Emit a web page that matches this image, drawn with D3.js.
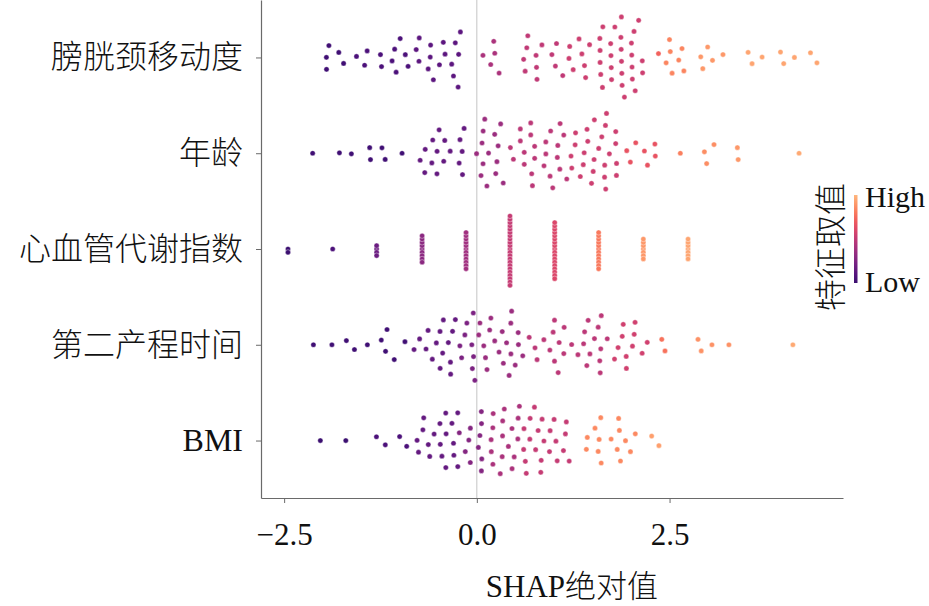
<!DOCTYPE html>
<html>
<head>
<meta charset="utf-8">
<script src="https://cdn.jsdelivr.net/npm/d3@7"></script>
<style>
  body { margin: 0; background: #fff; }
  svg { display: block; }
</style>
</head>
<body>
<div id="chart"></div>
<script>
// SHAP beeswarm, groupées par niveau de couleur (valeur de la variable)

const features = ["膀胱颈移动度", "年龄", "心血管代谢指数", "第二产程时间", "BMI"]
const xTicks = [-2.5, 0, 2.5]

// 膀胱颈移动度 : { v = valeur de la variable (0 bas → 1 haut), shap = valeurs SHAP }
const bladderNeck = [
  { v: 0.02, shap: [-1.92, -1.95, -1.95, -1.73, -1.79] },
  { v: 0.06, shap: [-1.55, -1.46, -1.43, -1.25, -1.23, -1.10, -1.05, -1.06, -1.00, -0.93, -0.89] },
  { v: 0.12, shap: [-0.78, -0.75, -0.73, -0.64, -0.60, -0.61, -0.57, -0.49, -0.41, -0.41, -0.31, -0.29, -0.26, -0.30, -0.25, -0.22] },
  { v: 0.42, shap: [0.09, 0.22, 0.28, 0.19, 0.22] },
  { v: 0.50, shap: [0.63, 0.77, 0.84, 0.66, 0.61, 0.76, 0.78, 0.66, 1.02, 0.98, 1.03, 1.12] },
  { v: 0.55, shap: [1.24, 1.21, 1.20, 1.38, 1.41, 1.46, 1.33, 1.39, 1.61, 1.60, 1.64, 1.65, 1.62, 1.59, 1.77, 1.91, 1.91, 1.83,
                    1.75, 1.79, 1.82, 1.80, 1.84, 1.86, 1.93, 1.77, 2.03, 1.99, 1.99, 2.08, 2.13, 2.02, 2.05, 2.09, 2.04] },
  { v: 0.72, shap: [2.37] },
  { v: 0.84, shap: [2.50, 2.62, 2.68, 2.46, 2.66, 2.50, 2.53] },
  { v: 0.90, shap: [2.93, 3.06, 2.99, 3.19, 2.91] },
  { v: 0.94, shap: [3.52, 3.70, 3.57, 3.98, 4.12, 3.94, 4.33, 4.41] },
]

// 年龄
const age = [
  { v: 0.02, shap: [-2.13, -1.78, -1.63, -1.39, -1.38, -1.23, -1.19, -0.97] },
  { v: 0.15, shap: [-0.71, -0.67, -0.65, -0.57, -0.57, -0.53, -0.49, -0.46, -0.42, -0.33, -0.22, -0.23, -0.21, -0.19, -0.17, -0.52] },
  { v: 0.36, shap: [0.07, 0.06, 0.05, 0.10, 0.12, 0.06, 0.09, 0.19, 0.23, 0.26, 0.24, 0.23, 0.30, 0.33] },
  { v: 0.48, shap: [0.48, 0.44, 0.60, 0.62, 0.67, 0.66, 0.58, 0.72, 0.69, 0.69, 0.75, 0.76, 0.86, 0.88, 0.90, 0.98, 0.96, 0.94,
                    1.07, 1.06, 1.04, 1.09, 1.12, 1.16] },
  { v: 0.55, shap: [1.23, 1.25, 1.28, 1.31, 1.33, 1.41, 1.42, 1.43, 1.41, 1.49, 1.51, 1.48, 1.55, 1.58, 1.61, 1.62, 1.66, 1.67,
                    1.68, 1.74, 1.78, 1.79, 1.80, 1.81, 1.66] },
  { v: 0.66, shap: [1.95, 1.99, 2.06, 2.22, 2.18, 2.30, 2.31] },
  { v: 0.82, shap: [2.64] },
  { v: 0.87, shap: [2.96, 3.07, 2.98] },
  { v: 0.90, shap: [3.39, 3.38] },
  { v: 0.95, shap: [4.18] },
]

// 心血管代谢指数 : valeurs discrètes, une colonne par niveau
const cmiShap = [-2.45, -1.87, -1.30, -0.71, -0.14, 0.43, 1.01, 1.58, 2.16, 2.74]
const cmiCount = [2, 1, 4, 9, 12, 22, 18, 12, 7, 7]
const cmiLevel = [0.0, 0.06, 0.18, 0.30, 0.38, 0.52, 0.60, 0.80, 0.90, 0.94]

// 第二产程时间
const secondStage = [
  { v: 0.02, shap: [-2.12, -1.88, -1.69, -1.59, -1.42, -1.18, -1.23, -1.17, -1.08, -0.93] },
  { v: 0.15, shap: [-0.81, -0.73, -0.63, -0.62, -0.57, -0.48, -0.50, -0.51, -0.43, -0.41, -0.38, -0.35, -0.32, -0.31, -0.35] },
  { v: 0.25, shap: [-0.22, -0.20, -0.14, -0.13, -0.07, -0.06, -0.03, -0.05, -0.04] },
  { v: 0.36, shap: [0.05, 0.06, 0.10, 0.11, 0.12, 0.13, 0.17, 0.26, 0.31, 0.34, 0.36, 0.36, 0.43, 0.43, 0.42, 0.45, 0.47, 0.53,
                    0.53, 0.59] },
  { v: 0.48, shap: [0.68, 0.76, 0.78, 0.90, 0.95, 1.01, 1.00, 1.01, 1.05, 1.06, 1.12, 1.10, 1.26, 1.34, 1.37, 1.43, 1.42, 1.44,
                    1.47, 1.53, 1.55, 1.57, 1.59, 1.61, 1.60, 1.69] },
  { v: 0.56, shap: [1.80, 1.85, 1.88, 1.92, 1.92, 1.94, 2.02, 2.04, 2.03, 2.14, 2.21] },
  { v: 0.78, shap: [2.40, 2.44] },
  { v: 0.88, shap: [2.87, 2.91, 3.05, 3.27] },
  { v: 0.95, shap: [4.10] },
]

// BMI
const bmi = [
  { v: 0.00, shap: [-2.03, -1.70] },
  { v: 0.06, shap: [-1.30, -1.19, -1.00, -0.91] },
  { v: 0.15, shap: [-0.76, -0.74, -0.69, -0.70, -0.61, -0.63, -0.52, -0.50, -0.45, -0.46, -0.38, -0.38, -0.41, -0.33, -0.29,
                    -0.32, -0.28, -0.28] },
  { v: 0.28, shap: [-0.21, -0.15, -0.07, -0.07, -0.05, 0.00, 0.02, 0.06, 0.05, 0.03, 0.06] },
  { v: 0.42, shap: [0.18, 0.20, 0.22, 0.24, 0.26, 0.29, 0.33, 0.34, 0.35, 0.37, 0.41, 0.45, 0.44, 0.46, 0.53, 0.52, 0.55] },
  { v: 0.52, shap: [0.60, 0.61, 0.64, 0.62, 0.69, 0.70, 0.74, 0.75, 0.82, 0.83, 0.82, 0.85, 0.88, 0.93, 0.94, 0.96, 1.05, 1.06,
                    1.11, 1.13, 1.16, 1.17] },
  { v: 0.85, shap: [1.44, 1.44, 1.54, 1.56, 1.58, 1.61, 1.60, 1.76, 1.84, 1.82, 1.84, 1.86, 1.93, 1.99, 2.05] },
  { v: 0.92, shap: [2.27, 2.36] },
]

const W = 929, H = 606
const margin = { top: 0, right: 86, bottom: 108, left: 261 }
const serif = "'Liberation Serif', 'Noto Sans CJK SC', serif"
const dotR = 2.6

// Aplatit les groupes en points { shap, v }
const flat = groups => groups.flatMap(g => g.shap.map(s => ({ shap: s, v: g.v })))
const cmiPoints = cmiShap.flatMap((s, i) => d3.range(cmiCount[i]).map(() => ({ shap: s, v: cmiLevel[i] })))

// diam = distance mini entre centres (swarm) ; stack = colonne serrée pour les valeurs discrètes
const rows = [
  { name: features[0], pts: flat(bladderNeck), diam: 12 },
  { name: features[1], pts: flat(age), diam: 12 },
  { name: features[2], pts: cmiPoints, diam: 3.3, stack: true },
  { name: features[3], pts: flat(secondStage), diam: 12 },
  { name: features[4], pts: flat(bmi), diam: 12 },
]

const x = d3.scaleLinear().domain([-2.80, 4.75]).range([margin.left, W - margin.right])
const y = d3.scaleLinear().domain([-0.6, features.length - 0.4]).range([margin.top, H - margin.bottom])
const color = v => d3.interpolateMagma(0.2 + 0.65 * v)

// Beeswarm : chaque point prend le décalage vertical le plus petit sans collision
function swarm(pts, diam) {
  const sorted = pts.map(p => ({ ...p, px: x(p.shap) })).sort((a, b) => a.px - b.px)
  const placed = []
  const d2 = diam * diam
  for (const p of sorted) {
    const near = placed.filter(q => Math.abs(q.px - p.px) < diam)
    const cands = [0]
    for (const q of near) {
      const h = Math.sqrt(d2 - (q.px - p.px) ** 2)
      cands.push(q.dy + h, q.dy - h)
    }
    cands.sort((a, b) => Math.abs(a) - Math.abs(b))
    p.dy = cands.find(c => near.every(q => (q.px - p.px) ** 2 + (q.dy - c) ** 2 >= d2 - 1e-6))
    placed.push(p)
  }
  return placed
}

// Relâchement par forces : casse les chaînes du swarm pour un nuage plus naturel
function relax(nodes, cy, diam) {
  nodes.forEach(n => { n.x = n.px; n.y = cy + n.dy })
  d3.forceSimulation(nodes)
    .force("x", d3.forceX(d => d.px).strength(0.9))
    .force("y", d3.forceY(cy).strength(0.04))
    .force("collide", d3.forceCollide(diam / 2).iterations(3))
    .stop()
    .tick(250)
  return nodes
}

const svg = d3.select("#chart").append("svg")
  .attr("width", W).attr("height", H)
  .attr("viewBox", `0 0 ${W} ${H}`)

// Ligne du zéro
svg.append("line")
  .attr("x1", x(0)).attr("x2", x(0))
  .attr("y1", margin.top).attr("y2", H - margin.bottom)
  .attr("stroke", "#c4c4c4").attr("stroke-width", 1)

// Points
rows.forEach((row, i) => {
  const cy = y(i)
  let nodes = swarm(row.pts, row.diam)
  if (row.stack) nodes.forEach(n => { n.x = n.px; n.y = cy + n.dy })
  else nodes = relax(nodes, cy, row.diam)
  svg.append("g").selectAll("circle")
    .data(nodes)
    .join("circle")
    .attr("cx", d => d.x)
    .attr("cy", d => d.y)
    .attr("r", dotR)
    .attr("fill", d => color(d.v))
    .attr("stroke", "#fff").attr("stroke-width", 0.4)
})

// Axes (gauche + bas seulement)
const axisColor = "#6a6a6a"
svg.append("g")
  .attr("transform", `translate(0,${H - margin.bottom})`)
  .call(d3.axisBottom(x).tickValues(xTicks).tickFormat(d3.format(".1f")).tickSize(5).tickPadding(20).tickSizeOuter(0))
  .call(g => g.select(".domain").attr("stroke", axisColor).attr("stroke-width", 1.2))
  .call(g => g.selectAll(".tick line").attr("stroke", axisColor))
  .call(g => g.selectAll("text").attr("fill", "#111").attr("font-size", 31).attr("font-family", serif))

svg.append("g")
  .attr("transform", `translate(${margin.left},0)`)
  .call(d3.axisLeft(y).tickValues(d3.range(features.length)).tickFormat(i => features[i]).tickSize(5).tickPadding(13).tickSizeOuter(0))
  .call(g => g.select(".domain").attr("stroke", axisColor).attr("stroke-width", 1.2))
  .call(g => g.selectAll(".tick line").attr("stroke", axisColor))
  .call(g => g.selectAll("text").attr("fill", "#111").attr("font-size", 32).attr("font-weight", 300).attr("font-family", serif))

// Titre axe X
svg.append("text")
  .attr("x", 572).attr("y", 597)
  .attr("text-anchor", "middle").attr("fill", "#111")
  .attr("font-size", 31).attr("font-weight", 300).attr("font-family", serif)
  .text("SHAP绝对值")

// Barre de couleur
const grad = svg.append("defs").append("linearGradient")
  .attr("id", "cbar").attr("x1", 0).attr("x2", 0).attr("y1", 1).attr("y2", 0)
d3.range(0, 1.01, 0.1).forEach(t => {
  grad.append("stop").attr("offset", t).attr("stop-color", color(t))
})
svg.append("rect")
  .attr("x", 854).attr("y", 195).attr("width", 3.5).attr("height", 88)
  .attr("fill", "url(#cbar)")

svg.append("text")
  .attr("x", 865).attr("y", 207)
  .attr("fill", "#111").attr("font-size", 30).attr("font-family", serif)
  .text("High")
svg.append("text")
  .attr("x", 865).attr("y", 292)
  .attr("fill", "#111").attr("font-size", 30).attr("font-family", serif)
  .text("Low")

svg.append("text")
  .attr("transform", "translate(842,247) rotate(-90)")
  .attr("text-anchor", "middle")
  .attr("fill", "#111").attr("font-size", 32).attr("font-weight", 300).attr("font-family", serif)
  .text("特征取值")
</script>
</body>
</html>
